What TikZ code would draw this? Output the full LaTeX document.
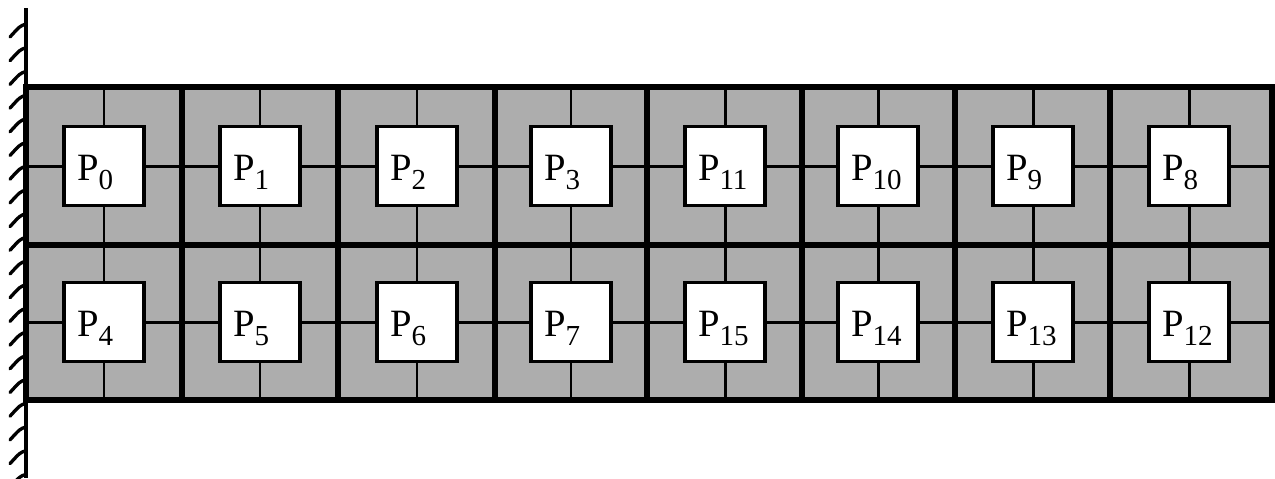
\documentclass[tikz,border=0pt]{standalone}
\usepackage{fontspec}
\setmainfont{Liberation Serif}
\usepackage{tikz}

% processor name with a big subscript, set flush left and below the centre
\newcommand{\pe}[1]{\raisebox{-8pt}[0pt][0pt]{\makebox[1.08cm][l]{%
  {\fontsize{22}{22}\selectfont P}\raisebox{-5.5pt}{\fontsize{16.5}{16.5}\selectfont #1}}}}

\begin{document}
\begin{tikzpicture}[
    x=0.02cm, y=-0.02cm,
    pbox/.style={rectangle, draw, line width=1.9pt, fill=white,
                 minimum width=1.6cm, minimum height=1.58cm, inner sep=0pt},
    link/.style={line width=1.7pt},
    edgeline/.style={line width=2.9pt},
    cell/.style={fill=black!32},
    hatch/.style={line width=1.9pt, line cap=round},
  ]
  \useasboundingbox (0,0) rectangle (1275,478);

  \coordinate (top) at (0,87);
  \coordinate (bot) at (0,400);
  \coordinate (wall) at (26,0);
  \coordinate (east) at (1272,0);

  % shaded mesh area
  \fill[cell] (26,87) rectangle (1272,400);

  % processors
  \foreach \x/\a/\b [count=\c] in {104/0/4, 260/1/5, 417/2/6, 571/3/7,
                                   725/11/15, 878/10/14, 1033/9/13, 1189/8/12} {
    \node[pbox] (t\c) at (\x,166) {\pe{\a}};
    \node[pbox] (b\c) at (\x,322) {\pe{\b}};
  }

  % mesh links
  \foreach \c in {1,...,8} {
    \draw[link] (t\c |- top) -- (t\c);
    \draw[link] (t\c) -- (b\c);
    \draw[link] (b\c) -- (b\c |- bot);
  }
  \foreach \c [evaluate=\c as \d using int(\c+1)] in {1,...,7} {
    \draw[link] (t\c) -- (t\d);
    \draw[link] (b\c) -- (b\d);
  }
  \draw[link] (t1 -| wall) -- (t1);
  \draw[link] (b1 -| wall) -- (b1);
  \draw[link] (t8) -- (t8 -| east);
  \draw[link] (b8) -- (b8 -| east);

  % block borders
  \draw[edgeline] (26,87) rectangle (1272,400);
  \draw[edgeline] (26,245) -- (1272,245);
  \foreach \x in {182,338,495,647,802,955,1110}
    \draw[edgeline] (\x,87) -- (\x,400);

  % fixed wall
  \draw[line width=2.3pt] (26,8) -- (26,478);
  \foreach \y in {24,47.7,...,480}
    \draw[hatch] (26,\y) .. controls (20,{\y+2}) .. (10,{\y+13});
\end{tikzpicture}
\end{document}
